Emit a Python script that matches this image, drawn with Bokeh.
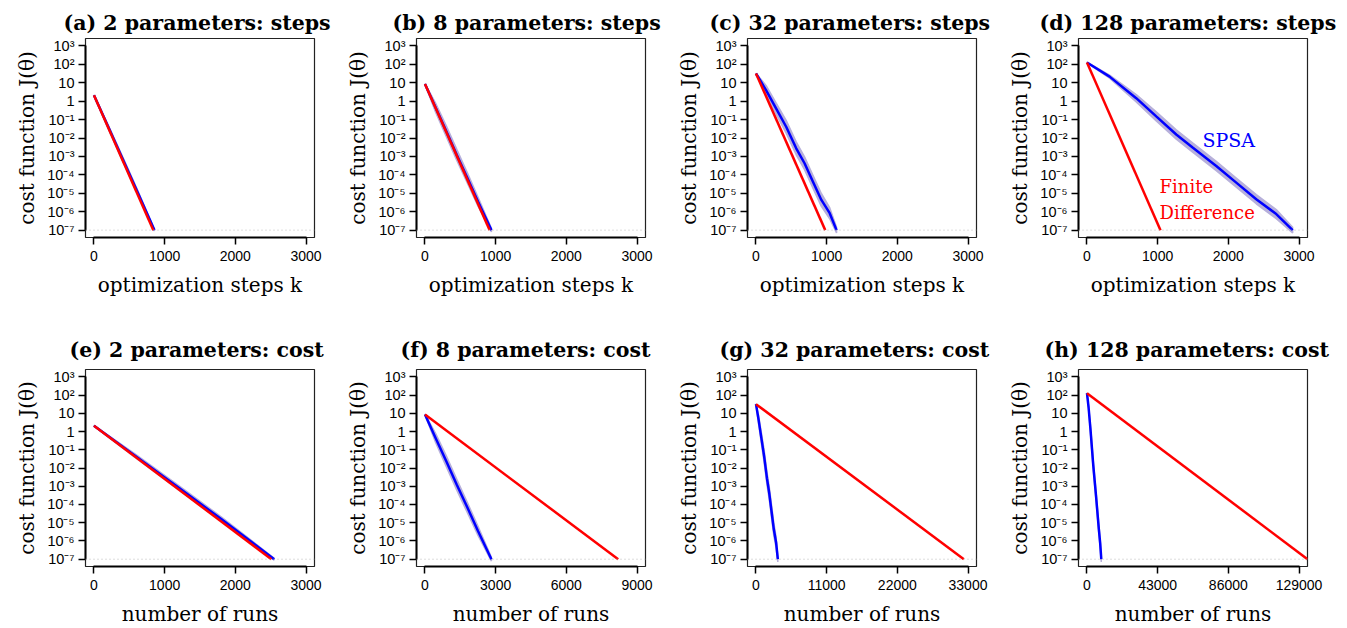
from bokeh.plotting import figure
from bokeh.layouts import row, column
from bokeh.models import (Range1d, FixedTicker, NumeralTickFormatter, CustomJSTickFormatter,
                          Span)
from bokeh.embed import file_html
from bokeh.resources import INLINE
from bokeh.core.properties import value

# ---------------- data (log10 of cost J) ----------------
titles = ["(a) 2 parameters: steps", "(b) 8 parameters: steps", "(c) 32 parameters: steps",
          "(d) 128 parameters: steps", "(e) 2 parameters: cost", "(f) 8 parameters: cost",
          "(g) 32 parameters: cost", "(h) 128 parameters: cost"]
x_max = [3000, 3000, 3000, 3000, 3000, 9000, 33000, 129000]
x_ticks = [[0, 1000, 2000, 3000]] * 5 + [[0, 3000, 6000, 9000], [0, 11000, 22000, 33000],
                                         [0, 43000, 86000, 129000]]
x_labels = ["optimization steps k"] * 4 + ["number of runs"] * 4
y_tick_exp = [-7, -6, -5, -4, -3, -2, -1, 0, 1, 2, 3]
threshold = 1e-7

# finite difference (straight lines): start / end in x, log10 J
fd_x = [[0, 840], [0, 915], [0, 980], [0, 1040],
        [0, 2510], [0, 8200], [0, 32350], [0, 134160]]
fd_e = [[0.32, -7.0], [0.93, -7.0], [1.5, -7.0], [2.1, -7.0],
        [0.32, -7.0], [0.93, -7.0], [1.5, -7.0], [2.1, -7.0]]

# SPSA mean curves and band half-width (decades)
spsa_a_x = [0, 200, 400, 600, 855]
spsa_a_e = [0.32, -1.38, -3.08, -4.8, -7.0]
spsa_a_w = [0.02, 0.1, 0.12, 0.12, 0.05]

spsa_b_x = [0, 150, 300, 450, 600, 750, 940]
spsa_b_e = [0.93, -0.35, -1.62, -2.92, -4.17, -5.45, -7.0]
spsa_b_w = [0.02, 0.25, 0.3, 0.3, 0.28, 0.25, 0.1]

spsa_c_x = [0, 142, 284, 427, 569, 687, 806, 925, 1043, 1140]
spsa_c_e = [1.5, 0.6, -0.39, -1.39, -2.56, -3.37, -4.37, -5.36, -6.08, -7.0]
spsa_c_w = [0.02, 0.25, 0.3, 0.35, 0.35, 0.35, 0.35, 0.35, 0.3, 0.15]

spsa_d_x = [0, 320, 697, 980, 1263, 1499, 1829, 2112, 2395, 2678, 2910]
spsa_d_e = [2.1, 1.33, 0.16, -0.83, -1.81, -2.53, -3.52, -4.42, -5.32, -6.13, -7.0]
spsa_d_w = [0.02, 0.08, 0.2, 0.25, 0.25, 0.25, 0.25, 0.25, 0.25, 0.25, 0.15]

spsa_e_x = [0, 600, 1200, 1800, 2550]
spsa_f_x = [0, 450, 900, 1350, 1800, 2250, 2820]
spsa_g_x = [0, 426, 852, 1281, 1707, 2061, 2418, 2775, 3129, 3400]
spsa_h_x = [0, 960, 2091, 2940, 3789, 4497, 5487, 6336, 7185, 8034, 8700]

spsa_x = [spsa_a_x, spsa_b_x, spsa_c_x, spsa_d_x, spsa_e_x, spsa_f_x, spsa_g_x, spsa_h_x]
spsa_e = [spsa_a_e, spsa_b_e, spsa_c_e, spsa_d_e, spsa_a_e, spsa_b_e, spsa_c_e, spsa_d_e]
spsa_w = [spsa_a_w, spsa_b_w, spsa_c_w, spsa_d_w, spsa_a_w, spsa_b_w, spsa_c_w, spsa_d_w]

# ---------------- styling ----------------
SERIF = "DejaVu Serif"
SANS = "Liberation Sans"
BLUE = "#0000FF"
RED = "#FF0000"
BAND = "#b7b0db"
title_offsets = [-22, -24, -38, -39, -16, -16, -28, -34]

sup_js = """
const e = Math.round(Math.log10(tick));
if (e == 0) return '1';
if (e == 1) return '10';
const m = {'-':'\u207b','0':'\u2070','1':'\u00b9','2':'\u00b2','3':'\u00b3','4':'\u2074',
           '5':'\u2075','6':'\u2076','7':'\u2077','8':'\u2078','9':'\u2079'};
return '10' + String(e).split('').map(c => m[c]).join('');
"""


def make_panel(i, top_row):
    M = x_max[i]
    last = (i % 4 == 3)
    h = 320 if top_row else 308
    p = figure(width=(354 if last else 331), height=h, y_axis_type="log",
               x_range=Range1d(-0.04 * M, 1.04 * M),
               y_range=Range1d(10 ** -7.4, 10 ** 3.4),
               output_backend="svg", toolbar_location=None,
               min_border_left=85, min_border_right=(40 if last else 17),
               min_border_top=(38 if top_row else 49),
               min_border_bottom=(83 if top_row else 60))
    p.title.text = titles[i]
    p.title.align = "left"
    p.title.offset = title_offsets[i]
    p.title.text_font = SERIF
    p.title.text_font_style = "bold"
    p.title.text_font_size = "20.5px"
    p.title.text_color = "black"
    p.title.standoff = 7 if top_row else 16
    p.grid.visible = False
    p.outline_line_color = "#222222"
    p.outline_line_width = 1.2
    p.background_fill_color = "white"
    p.border_fill_color = "white"

    xa = p.xaxis[0]
    xa.ticker = FixedTicker(ticks=x_ticks[i])
    xa.formatter = NumeralTickFormatter(format="0")
    xa.bounds = (0, M)
    xa.axis_label = x_labels[i]
    ya = p.yaxis[0]
    ya.ticker = FixedTicker(ticks=[10.0 ** e for e in y_tick_exp])
    ya.formatter = CustomJSTickFormatter(code=sup_js)
    ya.bounds = (1e-7, 1e3)
    ya.axis_label = "cost function J(θ)"
    for ax in (xa, ya):
        ax.axis_line_width = 2
        ax.axis_line_color = "black"
        ax.major_tick_line_width = 1.5
        ax.major_tick_out = 7
        ax.major_tick_in = 0
        ax.minor_tick_line_color = None
        ax.major_label_text_font = SANS
        ax.major_label_text_font_size = "14px"
        ax.major_label_text_color = "black"
        ax.axis_label_text_font = SERIF
        ax.axis_label_text_font_style = "normal"
        ax.axis_label_text_font_size = "20px"
        ax.axis_label_text_color = "black"
    ya.major_label_text_font_size = "14.5px"
    xa.major_label_standoff = 6
    xa.axis_label_standoff = 9
    ya.major_label_standoff = 4
    ya.axis_label_standoff = 5
    ya.major_label_orientation = "horizontal"

    p.add_layout(Span(location=threshold, dimension="width", line_color="#bbbbbb",
                      line_width=1, line_dash="1 3"))

    xs = spsa_x[i]
    es = spsa_e[i]
    ws = spsa_w[i]
    band_x = xs + xs[::-1]
    band_y = [10 ** (e + w) for e, w in zip(es, ws)] + [10 ** (e - w) for e, w in zip(es[::-1], ws[::-1])]
    p.patch(band_x, band_y, fill_color=BAND, line_color=BAND, line_width=1.5)
    p.line(xs, [10 ** e for e in es], line_color=BLUE, line_width=2.5)
    p.line(fd_x[i], [10 ** e for e in fd_e[i]], line_color=RED, line_width=2.5)

    if i == 3:
        p.text(x=[1633], y=[10 ** -2.1], text=["SPSA"], text_color=BLUE,
               text_font=value(SERIF), text_font_size="19px", text_baseline="middle",
               text_align="left")
        p.text(x=[1027, 1027], y=[10 ** -4.62, 10 ** -6.06], text=["Finite", "Difference"],
               text_color=RED, text_font=value(SERIF), text_font_size="18px",
               text_baseline="middle", text_align="left")
    return p


top = [make_panel(i, True) for i in range(4)]
bottom = [make_panel(i, False) for i in range(4, 8)]
layout = column(row(*top), row(*bottom))

open("out.html", "w").write(file_html(layout, INLINE))
